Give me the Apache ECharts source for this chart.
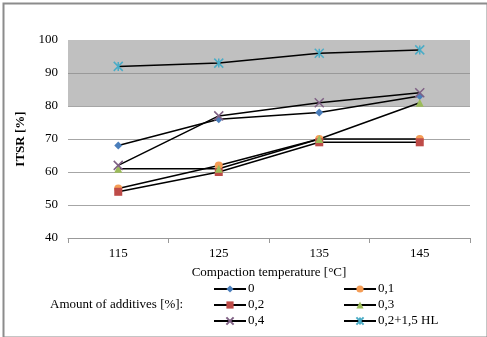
<!DOCTYPE html>
<html><head><meta charset="utf-8">
<script src="https://cdn.jsdelivr.net/npm/echarts@6/dist/echarts.min.js"></script>
<style>html,body{margin:0;padding:0;background:#fff}#c{width:487px;height:337px}</style>
</head><body><div id="c"></div>
<script>
const categories = ['115', '125', '135', '145'];
const s0 = [68, 76, 78, 83];
const s01 = [55, 62, 70, 70];
const s02 = [54, 60, 69, 69];
const s03 = [61, 61, 70, 81];
const s04 = [62, 77, 81, 84];
const sHL = [92, 93, 96, 97];
const seriesNames = ['0', '0,1', '0,2', '0,3', '0,4', '0,2+1,5 HL'];

const font = 'Liberation Serif';
function mk(name, data, color, symbol, size, extra) {
  return Object.assign({
    name, type: 'line', data, symbol, symbolSize: size,
    itemStyle: { color }, lineStyle: { color: '#000', width: 1.5 },
    emphasis: { disabled: true }, animation: false
  }, extra || {});
}
const legendCommon = {
  orient: 'vertical', top: 282, height: 54, itemGap: 2, padding: 0,
  itemWidth: 32, itemHeight: 9,
  textStyle: { fontFamily: font, fontSize: 13, lineHeight: 14, color: '#000', padding: [0, 0, 0, -3] }
};
const chart = echarts.init(document.getElementById('c'));
chart.setOption({
  animation: false,
  grid: { left: 68, right: 17, top: 40, bottom: 99 },
  xAxis: {
    type: 'category', data: categories, boundaryGap: true,
    name: 'Compaction temperature [°C]', nameLocation: 'middle', nameGap: 28,
    nameTextStyle: { fontFamily: font, fontSize: 13, color: '#000' },
    axisLine: { lineStyle: { color: '#999' } },
    axisTick: { show: true, length: 5, lineStyle: { color: '#999' } },
    axisLabel: { fontFamily: font, fontSize: 13, color: '#000', margin: 9 }
  },
  yAxis: {
    type: 'value', min: 40, max: 100, interval: 10,
    name: 'ITSR [%]', nameLocation: 'middle', nameGap: 37, nameRotate: 90,
    nameTextStyle: { fontFamily: font, fontSize: 13, fontWeight: 'bold', color: '#000' },
    axisLine: { show: false }, axisTick: { show: false },
    axisLabel: { fontFamily: font, fontSize: 13, color: '#000', margin: 10 },
    splitLine: { lineStyle: { color: '#a6a6a6' } }
  },
  legend: [
    Object.assign({ data: ['0', '0,2', '0,4'], left: 213 }, legendCommon),
    Object.assign({ data: ['0,1', '0,3', '0,2+1,5 HL'], left: 343 }, legendCommon)
  ],
  graphic: [
    { type: 'rect', left: 1, top: 1, shape: { width: 484, height: 334 }, style: { fill: 'none', stroke: '#8c8c8c', lineWidth: 2 }, silent: true },
    { type: 'text', left: 50, top: 298, style: { text: 'Amount of additives [%]:', font: '13px "Liberation Serif"', fill: '#000' } }
  ],
  series: [
    mk(seriesNames[0], s0, '#4a7ebb', 'diamond', 8, {
      markArea: { silent: true, itemStyle: { color: '#c0c0c0' }, data: [[{ yAxis: 80 }, { yAxis: 100 }]] },
      markLine: { silent: true, symbol: 'none', label: { show: false }, lineStyle: { color: '#999', type: 'solid', width: 1 }, data: [{ yAxis: 90 }] }
    }),
    mk(seriesNames[1], s01, '#f59d56', 'circle', 8),
    mk(seriesNames[2], s02, '#be4b48', 'rect', 8),
    mk(seriesNames[3], s03, '#9bbb59', 'triangle', 8),
    mk(seriesNames[4], s04, '#7f6084', 'path://M0,0L10,10M10,0L0,10', 9, { itemStyle: { color: 'none', borderColor: '#7f6084', borderWidth: 1.5 } }),
    mk(seriesNames[5], sHL, '#4bacc6', 'path://M0,0L10,10M10,0L0,10M5,0L5,10', 9, { itemStyle: { color: 'none', borderColor: '#4bacc6', borderWidth: 1.5 } })
  ]
});
</script></body></html>
